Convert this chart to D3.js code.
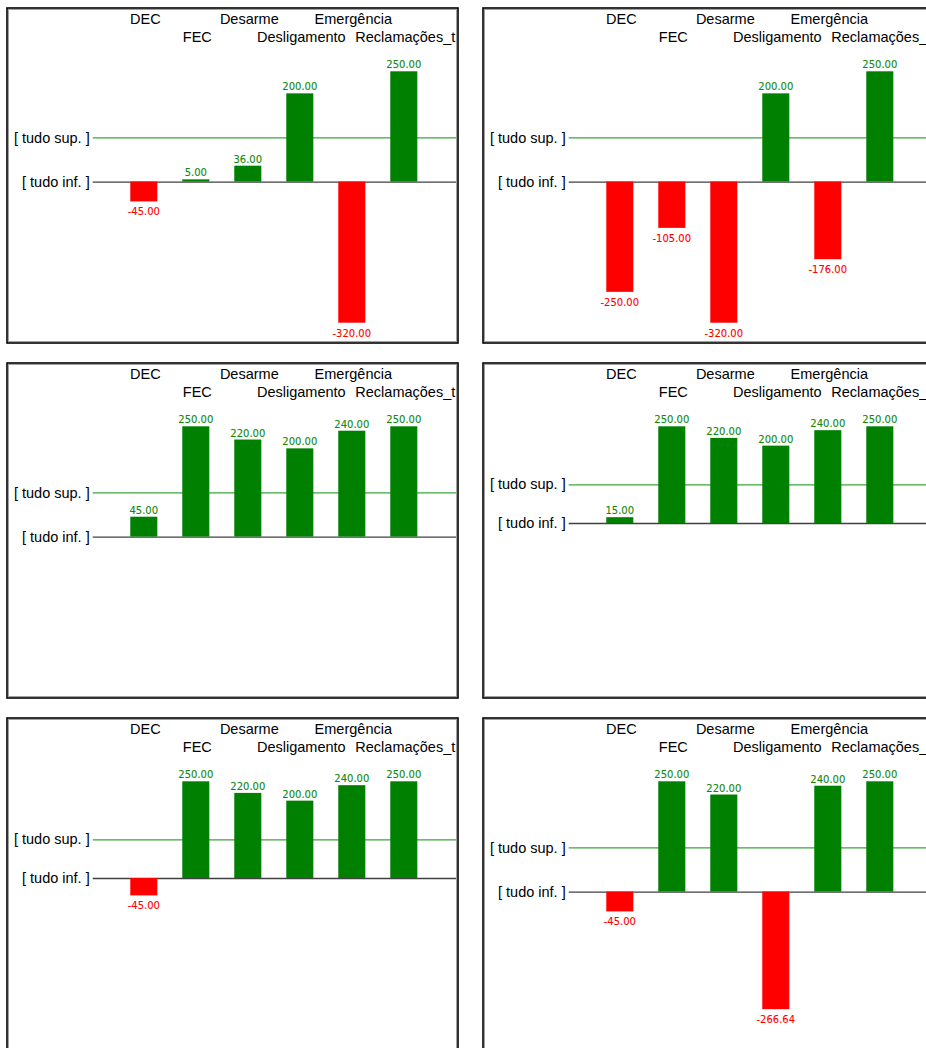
<!DOCTYPE html>
<html>
<head>
<meta charset="utf-8">
<script src="https://cdn.jsdelivr.net/npm/d3@7"></script>
<style>
  html, body { margin: 0; padding: 0; background: #fff; }
  svg { display: block; }
  .cat { font-family: "Liberation Sans", Arial, sans-serif; font-size: 14.5px; fill: #000; }
  .ylab text { font-family: "Liberation Sans", Arial, sans-serif; font-size: 14.5px; fill: #000; }
  .val { font-family: "DejaVu Sans", sans-serif; font-size: 10px; stroke-width: 0.1px; }
</style>
</head>
<body>
<svg id="chart" width="926" height="1048"></svg>
<script>
// ---- data ----
const categories = ["DEC", "FEC", "Desarme", "Desligamento", "Emergência", "Reclamações_t"];
const panel1 = [-45, 5, 36, 200, -320, 250];
const panel2 = [-250, -105, -320, 200, -176, 250];
const panel3 = [45, 250, 220, 200, 240, 250];
const panel4 = [15, 250, 220, 200, 240, 250];
const panel5 = [-45, 250, 220, 200, 240, 250];
const panel6 = [-45, 250, 220, -266.64, 240, 250];
const panelSeries = [panel1, panel2, panel3, panel4, panel5, panel6];
const panelYMin = [-320, -320, -320, -400, -400, -320];
const panelYMax = [250, 250, 250, 250, 250, 250];
const tickValues = [100, 0];
const tickLabels = ["[ tudo sup. ]", "[ tudo inf. ]"];

// ---- layout ----
const colX = [6, 482];
const rowY = [7, 362, 717];
const PW = 453, PH = 337;

const svg = d3.select("#chart");
const fmt = v => d3.format(".2f")(v).replace("\u2212", "-");

panelSeries.forEach((vals, p) => {
  const x0 = colX[p % 2], y0 = rowY[Math.floor(p / 2)];
  const g = svg.append("g");

  const clipId = "clip" + p;
  svg.append("clipPath").attr("id", clipId)
    .append("rect").attr("x", x0 + 3).attr("y", y0 + 3).attr("width", PW - 6).attr("height", PH - 6);

  const inner = g.append("g").attr("clip-path", `url(#${clipId})`);

  const x = d3.scaleBand().domain(categories)
    .range([x0 + 111.8, x0 + 423.8]).paddingInner(0.48).paddingOuter(0.24);
  const y = d3.scaleLinear().domain([panelYMin[p], panelYMax[p]])
    .range([y0 + 315.7, y0 + 64.3]);

  // y axis with reference lines
  const axisX = x0 + 86.7;
  const ax = inner.append("g").attr("class", "ylab")
    .attr("transform", `translate(${axisX},0)`)
    .call(d3.axisLeft(y).tickValues(tickValues)
      .tickFormat((d, i) => tickLabels[i])
      .tickSizeInner(-(x0 + PW - 3 - axisX)).tickSizeOuter(0).tickPadding(3));
  ax.select(".domain").remove();
  ax.selectAll(".tick line")
    .attr("stroke", d => d === 0 ? "#404040" : "#3aa63a")
    .attr("stroke-width", 1.3);
  ax.selectAll(".tick text").attr("fill", "#000");

  // category labels, staggered in two rows
  inner.selectAll("text.cat").data(categories).join("text")
    .attr("class", "cat")
    .attr("x", d => x(d) + x.bandwidth() / 2 + 1.5)
    .attr("y", (d, i) => y0 + (i % 2 === 0 ? 17 : 35.3))
    .attr("text-anchor", "middle")
    .text(d => d);

  // bars
  inner.selectAll("rect.bar").data(vals).join("rect")
    .attr("class", "bar")
    .attr("x", (d, i) => x(categories[i]))
    .attr("width", x.bandwidth())
    .attr("y", d => y(Math.max(0, d)))
    .attr("height", d => Math.abs(y(d) - y(0)))
    .attr("fill", d => d < 0 ? "#ff0000" : "#008000");

  // value labels
  inner.selectAll("text.val").data(vals).join("text")
    .attr("class", "val")
    .attr("x", (d, i) => x(categories[i]) + x.bandwidth() / 2)
    .attr("y", d => d < 0 ? y(d) + 14 : y(d) - 3)
    .attr("text-anchor", "middle")
    .attr("fill", d => d < 0 ? "#ff0000" : "#108a10")
    .attr("stroke", d => d < 0 ? "#ff0000" : "#108a10")
    .text(d => fmt(d));

  // frame
  g.append("rect").attr("x", x0 + 1).attr("y", y0 + 1)
    .attr("width", PW - 2).attr("height", PH - 2)
    .attr("fill", "none").attr("stroke", "#000").attr("stroke-width", 1.6);
  g.append("rect").attr("x", x0 + 2.5).attr("y", y0 + 2.5)
    .attr("width", PW - 5).attr("height", PH - 5)
    .attr("fill", "none").attr("stroke", "#a0a0a0").attr("stroke-width", 1);
});
</script>
</body>
</html>
